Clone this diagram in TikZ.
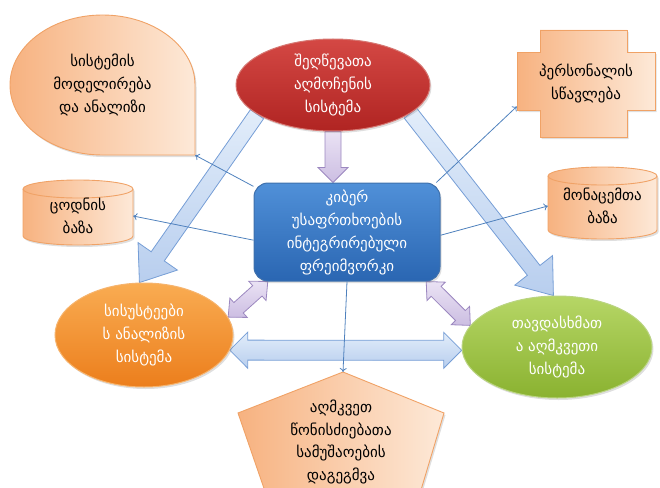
\documentclass[tikz,border=0pt]{standalone}
\usepackage{fontspec}
\setmainfont{DejaVu Sans}
\usetikzlibrary{shapes.geometric,calc,arrows.meta,shadows}
\pgfdeclarelayer{background}
\pgfsetlayers{background,main}

\definecolor{peachL}{RGB}{247,178,128}
\definecolor{peachR}{RGB}{253,233,216}
\definecolor{peachB}{RGB}{240,162,102}
\definecolor{redT}{RGB}{212,72,68}
\definecolor{redB}{RGB}{176,36,34}
\definecolor{redE}{RGB}{214,120,115}
\definecolor{blueT}{RGB}{80,144,216}
\definecolor{blueB}{RGB}{42,102,178}
\definecolor{blueE}{RGB}{62,112,172}
\definecolor{orT}{RGB}{249,172,82}
\definecolor{orB}{RGB}{236,126,28}
\definecolor{orE}{RGB}{246,180,110}
\definecolor{grT}{RGB}{182,214,102}
\definecolor{grB}{RGB}{138,178,48}
\definecolor{grE}{RGB}{186,212,130}
\definecolor{skyT}{RGB}{226,237,250}
\definecolor{skyB}{RGB}{184,206,238}
\definecolor{skyE}{RGB}{118,158,214}
\definecolor{lavT}{RGB}{234,226,244}
\definecolor{lavB}{RGB}{204,190,226}
\definecolor{lavE}{RGB}{156,136,192}
\definecolor{link}{RGB}{79,129,189}

% block arrow with one head: style, tail, tip, shaft half width, head half width, head length
\newcommand\sglarrow[6]{%
  \coordinate (arrA) at (#2);
  \coordinate (arrB) at (#3);
  \coordinate (arrH) at ($(arrB)!#6!(arrA)$);
  \draw[#1] ($(arrA)!#4!90:(arrB)$) -- ($(arrH)!#4!90:(arrB)$) -- ($(arrH)!#5!90:(arrB)$)
    -- (arrB) -- ($(arrH)!#5!-90:(arrB)$) -- ($(arrH)!#4!-90:(arrB)$)
    -- ($(arrA)!#4!-90:(arrB)$) -- cycle;}

% block arrow with two heads
\newcommand\dblarrow[6]{%
  \coordinate (arrA) at (#2);
  \coordinate (arrB) at (#3);
  \coordinate (arrH) at ($(arrA)!#6!(arrB)$);
  \coordinate (arrK) at ($(arrB)!#6!(arrA)$);
  \draw[#1] (arrA) -- ($(arrH)!#5!90:(arrB)$) -- ($(arrH)!#4!90:(arrB)$)
    -- ($(arrK)!#4!90:(arrB)$) -- ($(arrK)!#5!90:(arrB)$) -- (arrB)
    -- ($(arrK)!#5!-90:(arrB)$) -- ($(arrK)!#4!-90:(arrB)$)
    -- ($(arrH)!#4!-90:(arrB)$) -- ($(arrH)!#5!-90:(arrB)$) -- cycle;}

\begin{document}
\begin{tikzpicture}[x=1pt,y=-1pt,
  txt/.style={align=center, font=\fontsize{15}{23}\selectfont},
  soft/.style={drop shadow={shadow xshift=1.5pt,shadow yshift=-2pt,opacity=0.25}},
  peach/.style={draw=peachB, line width=0.9pt, left color=peachL, right color=peachR, soft},
  rim/.style={draw=peachB, line width=0.9pt},
  bigarrow/.style={draw=skyE, line width=0.8pt, top color=skyT, bottom color=skyB},
  lavarrow/.style={draw=lavE, line width=0.8pt, top color=lavT, bottom color=lavB},
  thinlink/.style={draw=link, line width=0.8pt, -{To[length=4pt,width=7pt]}},
  oval/.style={ellipse, inner sep=0pt, line width=1pt, txt, text=white, soft}]

\useasboundingbox (0,0) rectangle (660,487);

% teardrop callout
\draw[peach] (195,155) -- (102.5,155) arc[start angle=90,end angle=360,x radius=92.5,y radius=70] -- cycle;
\node[txt, minimum width=185pt, minimum height=140pt, inner sep=0pt] (model) at (102.5,85)
  {სისტემის\\მოდელირება\\და ანალიზი};

% plus-shaped box
\draw[peach] (540,30) -- (627,30) -- (627,52) -- (655,52) -- (655,110) -- (627,110)
  -- (627,137) -- (540,137) -- (540,110) -- (517,110) -- (517,52) -- (540,52) -- cycle;
\node[txt, minimum width=138pt, minimum height=107pt, inner sep=0pt] (train) at (586,83.5)
  {პერსონალის\\სწავლება};

% left database
\draw[peach] (23,189) -- (23,236) arc[start angle=180,end angle=0,x radius=55,y radius=9]
  -- (133,189) arc[start angle=0,end angle=-180,x radius=55,y radius=9] -- cycle;
\draw[rim] (23,189) arc[start angle=180,end angle=0,x radius=55,y radius=9];
\node[txt, minimum width=110pt, minimum height=50pt, inner sep=0pt] (kbase) at (78,216)
  {ცოდნის\\ბაზა};

% right database
\draw[peach] (548,176) -- (548,230) arc[start angle=180,end angle=0,x radius=54.5,y radius=9]
  -- (657,176) arc[start angle=0,end angle=-180,x radius=54.5,y radius=9] -- cycle;
\draw[rim] (548,176) arc[start angle=180,end angle=0,x radius=54.5,y radius=9];
\node[txt, minimum width=109pt, minimum height=50pt, inner sep=0pt] (dbase) at (602.5,206)
  {მონაცემთა\\ბაზა};

% pentagon
\draw[peach] (343,372) -- (444,413) -- (418,500) -- (268,500) -- (238,413) -- cycle;
\coordinate (plantop) at (343,372);
\node[txt, font=\fontsize{15}{22.5}\selectfont] (plan) at (341,442)
  {აღმკვეთ\\წონისძიებათა\\სამუშაოების\\დაგეგმვა};

% coloured systems
\node[oval, minimum width=194pt, minimum height=92pt, top color=redT, bottom color=redB, draw=redE]
  (detect) at (333,85) {შეღწევათა\\აღმოჩენის\\სისტემა};
\node[oval, minimum width=178pt, minimum height=104pt, top color=orT, bottom color=orB, draw=orE]
  (sys) at (144,335) {სისუსტეები\\ს ანალიზის\\სისტემა};
\node[oval, minimum width=190pt, minimum height=102pt, top color=grT, bottom color=grB, draw=grE]
  (att) at (557,347) {თავდასხმათ\\ა აღმკვეთი\\სისტემა};

% central framework
\node[rectangle, rounded corners=14pt, minimum width=186pt, minimum height=98pt, inner sep=0pt,
  top color=blueT, bottom color=blueB, draw=blueE, line width=1pt, txt, text=white, soft]
  (frame) at (347,232) {კიბერ\\უსაფრთხოების\\ინტეგრირებული\\ფრეიმვორკი};

% block arrows behind the shapes
\begin{pgfonlayer}{background}
  \sglarrow{bigarrow}{detect.201}{sys.95}{8pt}{24pt}{32pt}
  \sglarrow{bigarrow}{detect.-20}{att.94}{8pt}{24pt}{32pt}
  \dblarrow{bigarrow}{sys.-10}{att.182}{10pt}{18pt}{18pt}
  \sglarrow{lavarrow}{detect.south}{detect.south |- frame.north}{8pt}{15pt}{15pt}
  \dblarrow{lavarrow}{sys.12}{frame.212}{7pt}{13pt}{14pt}
  \dblarrow{lavarrow}{frame.-32}{att.166}{7pt}{13pt}{14pt}
\end{pgfonlayer}

% thin links from the framework
\draw[thinlink] (frame.154) -- (model.south east);
\draw[thinlink] (frame.29) -- ([yshift=-23pt]train.west);
\draw[thinlink] (frame.185) -- (kbase.east);
\draw[thinlink] (frame.-2) -- (dbase.west);
\draw[thinlink] (frame.south) -- (plantop);
\end{tikzpicture}
\end{document}
